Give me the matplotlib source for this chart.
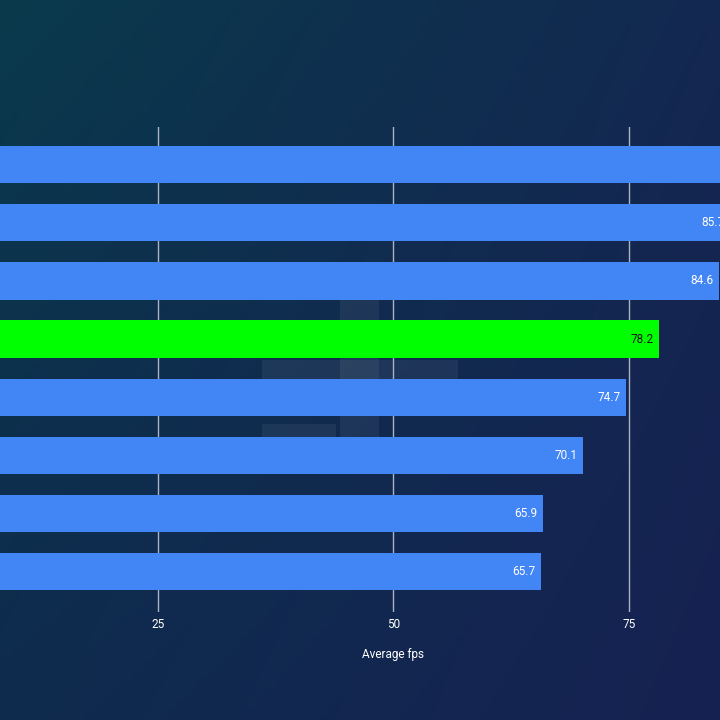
import matplotlib.pyplot as plt
import matplotlib.patches as mpatches
import numpy as np

plt.rcParams['font.family'] = ['Roboto', 'DejaVu Sans']

# wartości słupków (od góry); pierwsza wartość odczytana szacunkowo (poza kadrem)
wartosci = [90.0, 85.7, 84.6, 78.2, 74.7, 70.1, 65.9, 65.7]
etykiety = [f'{v:.1f}' for v in wartosci]
wyrozniony = 3
ticki = [25, 50, 75]

fig = plt.figure(figsize=(7.2, 7.2), dpi=100)

# tło z gradientem
tlo = fig.add_axes([0, 0, 1, 1])
xx, yy = np.meshgrid(np.linspace(0, 1, 200), np.linspace(0, 1, 200))
lewy_gora = np.array([10, 58, 76]) / 255
prawy = np.array([22, 34, 82]) / 255
lewy_dol = np.array([12, 46, 76]) / 255
t = np.clip(0.75 * xx + 0.25 * yy, 0, 1)[..., None]
kolor_lewy = lewy_gora * (1 - yy[..., None]) + lewy_dol * yy[..., None]
obraz = kolor_lewy * (1 - t) + prawy * t
tlo.imshow(obraz, extent=[0, 1, 0, 1], aspect='auto', origin='upper')
tlo.set_xlim(0, 1)
tlo.set_ylim(0, 1)
tlo.set_axis_off()

# delikatny znak wodny (pod słupkami)
for (x0, y0, w, h) in [(340, 300, 39, 140), (262, 360, 196, 20), (262, 424, 74, 16)]:
    tlo.add_patch(mpatches.Rectangle((x0 / 720, 1 - (y0 + h) / 720), w / 720, h / 720,
                                     color='white', alpha=0.06, linewidth=0))

ax = fig.add_axes([0, 0.15, 1, 0.6736])
ax.patch.set_alpha(0)
y = np.arange(len(wartosci))
kolory = ['#00ff00' if i == wyrozniony else '#4285f4' for i in range(len(wartosci))]
ax.barh(y, wartosci, height=0.64, color=kolory, zorder=3)

for i, v in enumerate(wartosci):
    ax.annotate(etykiety[i], (v, i), xytext=(-4, 0), textcoords='offset points',
                ha='right', va='center', color='#1a1a1a' if i == wyrozniony else 'white',
                fontsize=8.5, zorder=4, annotation_clip=False)

ax.set_xlim(8.23, 84.66)
ax.set_ylim(7.7, -0.65)
ax.set_xticks(ticks=ticki)
ax.set_yticks([])
ax.grid(axis='x', color='#aab3c5', linewidth=1, zorder=0)
for s in ax.spines.values():
    s.set_visible(False)
ax.tick_params(axis='x', length=0, pad=4, colors='white', labelsize=8.5)
ax.set_xlabel('Average fps', color='white', fontsize=8.5)
ax.xaxis.set_label_coords((50 - 8.23) / (84.66 - 8.23), -0.075)

fig.savefig('out.png', dpi=100)
